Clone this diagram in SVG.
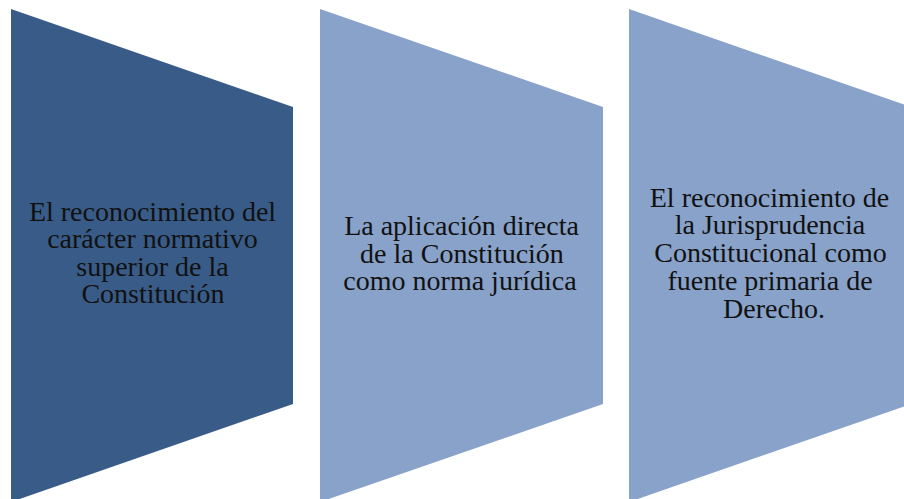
<svg xmlns="http://www.w3.org/2000/svg" width="904" height="499" viewBox="0 0 904 499">
<style>
text{font-family:'Liberation Serif','Tinos','DejaVu Serif',serif;font-size:28px;fill:#111111;text-anchor:middle}
.dark{fill:#385B87}
.light{fill:#88A2C9}
</style>
<rect width="904" height="499" fill="#ffffff"/>
<g id="connectors"></g>
<g id="node1">
<polygon class="dark" points="11,9 293,107 293,404 11,502"/>
<text x="152.5" y="221">El reconocimiento del</text>
<text x="152.5" y="248">carácter normativo</text>
<text x="152.5" y="275.5">superior de la</text>
<text x="153" y="303">Constitución</text>
</g>
<g id="node2">
<polygon class="light" points="320,9 603,107 603,404 320,502"/>
<text x="461.5" y="235">La aplicación directa</text>
<text x="462" y="262.5">de la Constitución</text>
<text x="460" y="290">como norma jurídica</text>
</g>
<g id="node3">
<polygon class="light" points="629,9 911,107 911,404 629,502"/>
<text x="769.5" y="206.5">El reconocimiento de</text>
<text x="770" y="234">la Jurisprudencia</text>
<text x="770.5" y="262">Constitucional como</text>
<text x="770" y="289.5">fuente primaria de</text>
<text x="774" y="317.5">Derecho.</text>
</g>
</svg>
